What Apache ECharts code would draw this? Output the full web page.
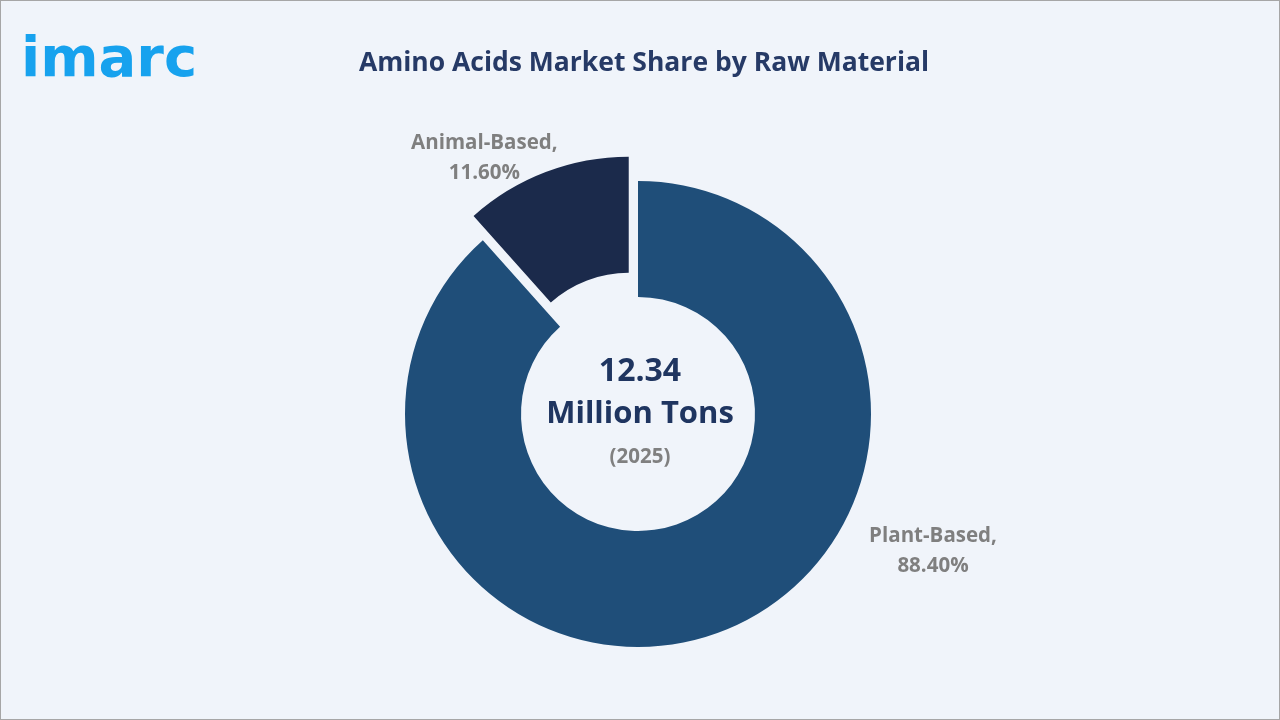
<!DOCTYPE html>
<html><head><meta charset="utf-8">
<script src="https://cdn.jsdelivr.net/npm/echarts@6/dist/echarts.min.js"></script>
<style>html,body{margin:0;padding:0;background:#f0f4fa;}#c{width:1280px;height:720px;box-sizing:border-box;border:1px solid #a6a6a6;}</style>
</head><body><div id="c"></div>
<script>
const categories = ['Plant-Based', 'Animal-Based'];
const shares = [88.40, 11.60];
const colors = ['#1f4e79', '#1b2a4b'];
const centerValue = '12.34';
const centerUnit = 'Million Tons';
const centerYear = '(2025)';
const chartTitle = 'Amino Acids Market Share by Raw Material';

const chart = echarts.init(document.getElementById('c'));
const labelPos = {'Plant-Based': [932, 550, 0], 'Animal-Based': [484, 157, -21]};
chart.setOption({
  backgroundColor: '#f0f4fa',
  animation: false,
  title: {
    text: chartTitle, left: 638, top: 44, textAlign: 'center',
    textStyle: {fontFamily: 'Open Sans', fontWeight: 'bold', fontSize: 26.5, color: '#263a66'}
  },
  graphic: [
    {type: 'text', left: 20, top: 32, style: {text: 'imarc', fontFamily: 'DejaVu Sans', fontWeight: 'bold', fontSize: 56, fill: '#17a2ee'}},
    {type: 'text', left: 'center', top: 355, style: {text: centerValue, fontFamily: 'Open Sans', fontWeight: 'bold', fontSize: 32, fill: '#1f3560', textAlign: 'center'}},
    {type: 'text', left: 'center', top: 398, style: {text: centerUnit, fontFamily: 'Open Sans', fontWeight: 'bold', fontSize: 31, fill: '#1f3560', textAlign: 'center'}},
    {type: 'text', left: 'center', top: 446, style: {text: centerYear, fontFamily: 'Open Sans', fontWeight: 'bold', fontSize: 20.5, fill: '#808080', textAlign: 'center'}}
  ],
  series: [{
    type: 'pie',
    center: [637, 413],
    radius: [117, 233],
    startAngle: 90,
    clockwise: true,
    selectedMode: 'single',
    selectedOffset: 26,
    label: {
      show: true, position: 'outside',
      formatter: p => p.name + ',\n' + p.value.toFixed(2) + '%',
      fontFamily: 'Open Sans', fontWeight: 'bold', fontSize: 20.5, color: '#7f7f7f',
      lineHeight: 30, align: 'center'
    },
    labelLine: {show: false},
    labelLayout: p => {
      const pos = labelPos[categories[p.dataIndex]];
      return {x: pos[0], y: pos[1], dx: pos[2], align: 'center', verticalAlign: 'middle'};
    },
    emphasis: {disabled: true},
    itemStyle: {borderWidth: 0},
    data: categories.map((c, i) => ({name: c, value: shares[i], selected: i === 1, itemStyle: {color: colors[i]}}))
  }]
});
</script></body></html>
